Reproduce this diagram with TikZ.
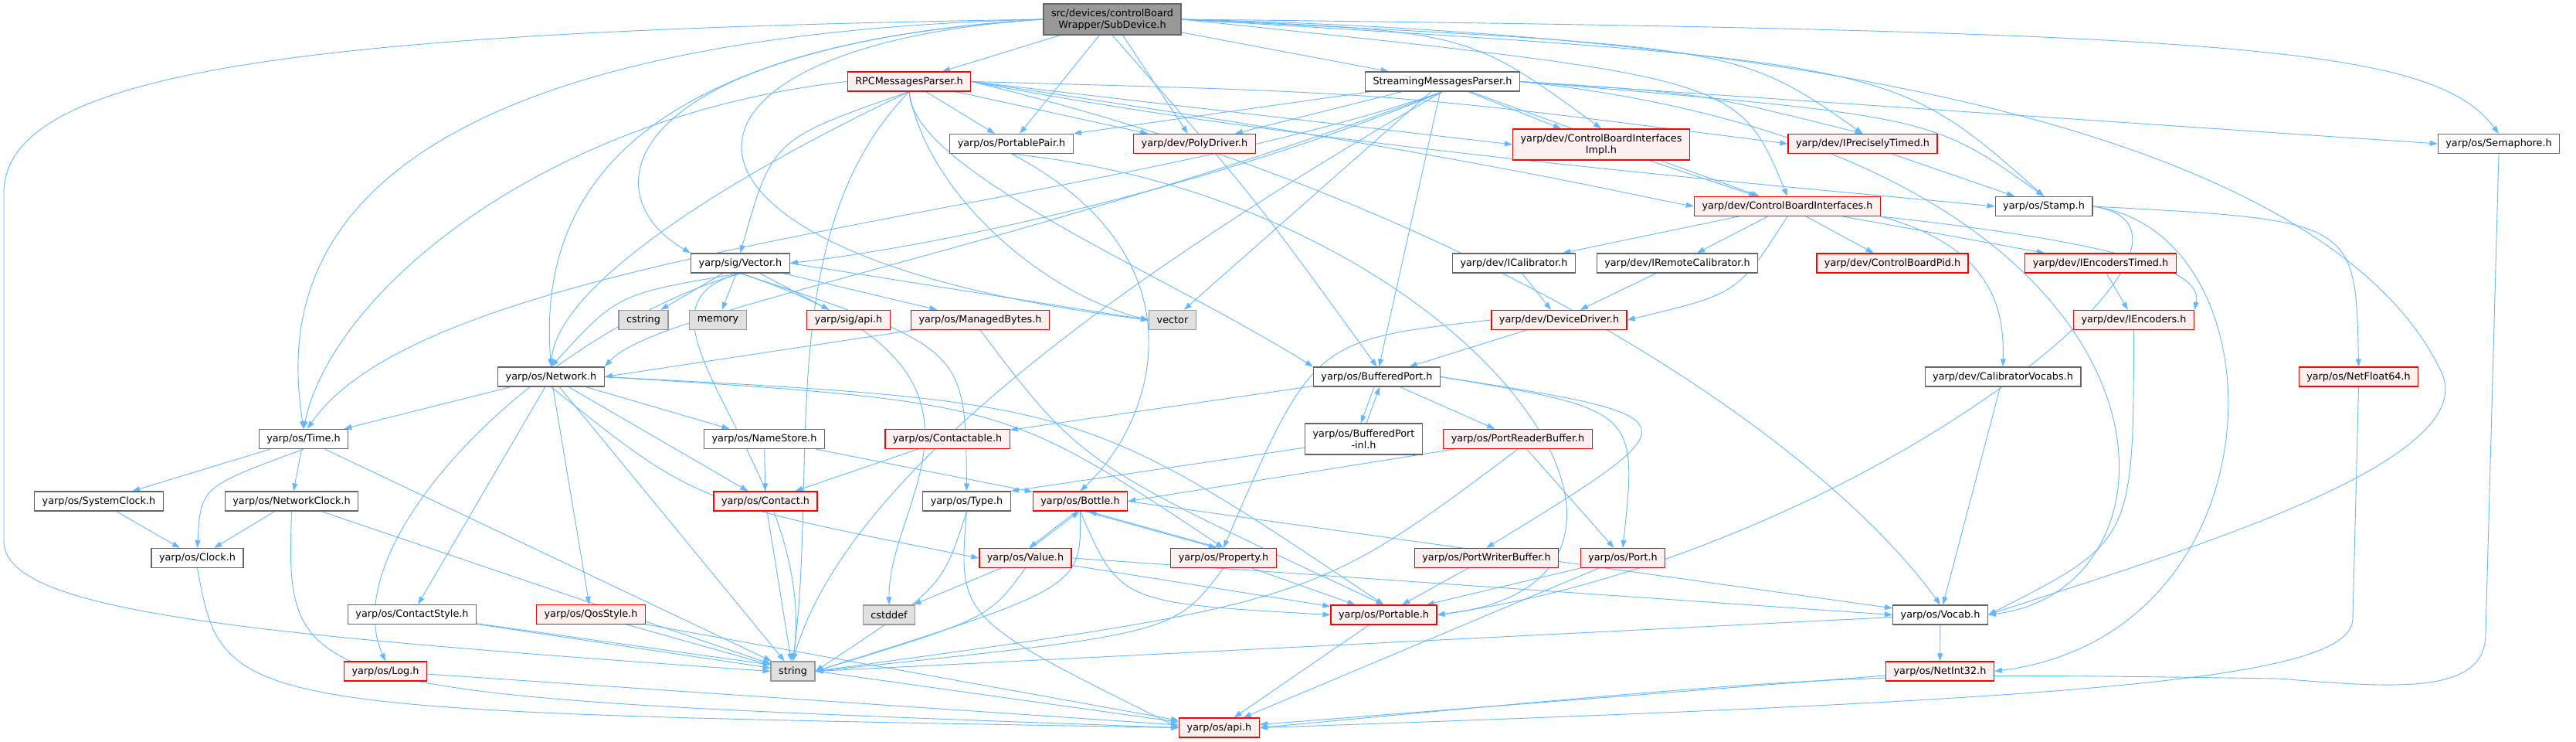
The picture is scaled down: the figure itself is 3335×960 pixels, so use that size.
\documentclass[tikz,border=0pt]{standalone}
\usepackage{fontspec}
\setmainfont{DejaVu Sans}
\usetikzlibrary{arrows.meta, backgrounds}
\definecolor{edgeblue}{HTML}{63B8FF}
\definecolor{redfill}{HTML}{FFF0F0}
\definecolor{extfill}{HTML}{E0E0E0}
\definecolor{rootfill}{HTML}{999999}
\definecolor{plainline}{HTML}{666666}
\definecolor{extline}{HTML}{999999}

\begin{document}
\begin{tikzpicture}[
  x=1pt, y=-1pt,
  boxb/.style={font=\fontsize{12.8}{15}\selectfont, minimum height=25pt,
               inner xsep=10pt, inner ysep=2pt, line width=1.3pt, align=center},
  plainb/.style={boxb, draw=plainline, fill=white},
  redb/.style={boxb, draw=red, fill=redfill},
  extb/.style={boxb, draw=extline, fill=extfill},
  rootb/.style={boxb, draw=plainline, fill=rootfill},
  arr/.style={->, >={Triangle[length=10pt,width=7pt]}, draw=edgeblue, line width=0.9pt},
]
\useasboundingbox (0,0) rectangle (3335,960);

% Top: the file itself
\node[rootb, minimum height=40pt] (sub) at (1440,25) {src/devices/controlBoard\\Wrapper/SubDevice.h};

% Parsers
\node[redb]   (rpc) at (1177,105.5) {RPCMessagesParser.h};
\node[plainb] (smp) at (1867.5,105.5) {StreamingMessagesParser.h};

% Second row
\node[plainb] (ppair) at (1309.5,186) {yarp/os/PortablePair.h};
\node[redb]   (poly) at (1546.5,186) {yarp/dev/PolyDriver.h};
\node[redb, minimum height=40pt] (cbiimpl) at (2073,187) {yarp/dev/ControlBoardInterfaces\\Impl.h};
\node[redb]   (iprec) at (2411.5,186) {yarp/dev/IPreciselyTimed.h};
\node[plainb] (sema) at (3235,186) {yarp/os/Semaphore.h};
\node[redb]   (cbi) at (2314,267) {yarp/dev/ControlBoardInterfaces.h};
\node[plainb] (stamp) at (2646,267) {yarp/os/Stamp.h};

% Vector and device interfaces
\node[plainb] (vec) at (958.5,340.5) {yarp/sig/Vector.h};
\node[plainb] (ical) at (1960,340.5) {yarp/dev/ICalibrator.h};
\node[plainb] (iremcal) at (2171.5,340.5) {yarp/dev/IRemoteCalibrator.h};
\node[redb]   (cbpid) at (2450,340.5) {yarp/dev/ControlBoardPid.h};
\node[redb]   (ienct) at (2719.5,340.5) {yarp/dev/IEncodersTimed.h};

\node[extb]   (cstring) at (833,414) {cstring};
\node[extb]   (memory) at (929.5,414) {memory};
\node[redb]   (sigapi) at (1098.5,414) {yarp/sig/api.h};
\node[redb]   (mbytes) at (1269,414) {yarp/os/ManagedBytes.h};
\node[extb]   (vector) at (1518,414) {vector};
\node[redb]   (devdrv) at (2018.5,414) {yarp/dev/DeviceDriver.h};
\node[redb]   (ienc) at (2762.5,414) {yarp/dev/IEncoders.h};

% Ports and network
\node[plainb] (network) at (713.5,487.5) {yarp/os/Network.h};
\node[plainb] (bport) at (1782.5,487.5) {yarp/os/BufferedPort.h};
\node[plainb] (calvoc) at (2593,487.5) {yarp/dev/CalibratorVocabs.h};
\node[redb]   (nf64) at (3053.5,487.5) {yarp/os/NetFloat64.h};

\node[plainb] (time) at (393,568) {yarp/os/Time.h};
\node[plainb] (namestore) at (989.5,568) {yarp/os/NameStore.h};
\node[redb]   (contactable) at (1226.5,568) {yarp/os/Contactable.h};
\node[plainb, minimum height=40pt] (bpinl) at (1765.5,568) {yarp/os/BufferedPort\\-inl.h};
\node[redb]   (prbuf) at (1965,568) {yarp/os/PortReaderBuffer.h};

\node[plainb] (sysclock) at (128,648.5) {yarp/os/SystemClock.h};
\node[plainb] (netclock) at (377.5,648.5) {yarp/os/NetworkClock.h};
\node[redb]   (contact) at (991,648.5) {yarp/os/Contact.h};
\node[plainb] (type) at (1251.5,648.5) {yarp/os/Type.h};
\node[redb]   (bottle) at (1398.5,648.5) {yarp/os/Bottle.h};

\node[plainb] (clock) at (255.5,722) {yarp/os/Clock.h};
\node[redb]   (value) at (1327.5,722) {yarp/os/Value.h};
\node[redb]   (property) at (1584,722) {yarp/os/Property.h};
\node[redb]   (pwbuf) at (1924.5,722) {yarp/os/PortWriterBuffer.h};
\node[redb]   (port) at (2101,722) {yarp/os/Port.h};

\node[plainb] (cstyle) at (533.5,795) {yarp/os/ContactStyle.h};
\node[redb]   (qos) at (765,795) {yarp/os/QosStyle.h};
\node[extb]   (cstddef) at (1151,795.5) {cstddef};
\node[redb]   (portable) at (1791.5,795.5) {yarp/os/Portable.h};
\node[plainb] (vocab) at (2512,795.5) {yarp/os/Vocab.h};

% Bottom
\node[redb]   (log) at (499,868.5) {yarp/os/Log.h};
\node[extb]   (string) at (1026.5,868.5) {string};
\node[redb]   (netint32) at (2511.5,868.5) {yarp/os/NetInt32.h};
\node[redb]   (api) at (1578.5,941.5) {yarp/os/api.h};

\begin{scope}[on background layer]
\fill[white] (0,0) rectangle (3335,960);

% Root includes
\draw[arr] (sub) -- (rpc);
\draw[arr] (sub) -- (smp);
\draw[arr] (sub) -- (ppair);
\draw[arr] (sub) -- (poly);
\draw[arr] (sub.east) .. controls (1900,40) .. (cbiimpl.north);
\draw[arr] (sub.east) .. controls (2250,60) .. (iprec.north);
\draw[arr] (sub.east) .. controls (2450,80) .. (stamp.north);
\draw[arr] (sub.east) .. controls (2250,100) .. (cbi.north);
\draw[arr] (sub.east) .. controls (2900,40) and (3150,60) .. (sema.north);
\draw[arr] (sub.east) .. controls (2600,50) and (3050,250) .. (3160,480)
  .. controls (3220,600) and (2800,720) .. (vocab.east);
\draw[arr] (sub.west) .. controls (400,40) and (5,90) .. (5,250)
  -- (5,700) .. controls (5,790) and (300,820) .. (string.west);
\draw[arr] (sub.west) .. controls (360,50) and (370,400) .. (time.north);
\draw[arr] (sub.west) .. controls (760,60) and (700,300) .. (network.north);
\draw[arr] (sub.west) .. controls (800,60) and (760,250) .. (vec.north west);
\draw[arr] (sub.west) .. controls (820,60) and (800,330) .. (vector.west);
\draw[arr] (sub.south) .. controls (1620,250) .. (bport.north);

% RPC parser
\draw[arr] (rpc) -- (ppair);
\draw[arr] (rpc) -- (poly);
\draw[arr] (rpc.east) -- (cbiimpl.west);
\draw[arr] (rpc.east) .. controls (1900,200) and (2100,250) .. (cbi.west);
\draw[arr] (rpc.east) .. controls (1800,120) .. (iprec.west);
\draw[arr] (rpc.east) .. controls (1700,190) and (2300,240) .. (stamp.west);
\draw[arr] (rpc.west) .. controls (700,150) and (430,380) .. (time.north);
\draw[arr] (rpc.south) .. controls (900,250) and (720,380) .. (network.north);
\draw[arr] (rpc.south) .. controls (1000,180) .. (vec.north);
\draw[arr] (rpc.south) .. controls (1200,250) and (1350,380) .. (vector.west);
\draw[arr] (rpc.south) .. controls (1180,220) and (1500,350) .. (bport.north west);
\draw[arr] (rpc.south) .. controls (1000,300) and (1060,600) .. (string.north);
\draw[arr] (rpc.east) .. controls (1900,260) and (2350,560) .. (vocab.north);

% Streaming parser
\draw[arr] (smp) -- (ppair.north east);
\draw[arr] (smp) -- (poly);
\draw[arr] (smp) -- (cbiimpl);
\draw[arr] (smp) -- (cbi);
\draw[arr] (smp.east) .. controls (2200,120) .. (iprec.north);
\draw[arr] (smp.east) .. controls (2500,150) .. (stamp.north);
\draw[arr] (smp.east) -- (sema.west);
\draw[arr] (smp.east) .. controls (2850,200) and (2860,760) .. (vocab.east);
\draw[arr] (smp.south) .. controls (1400,280) and (560,320) .. (time.70);
\draw[arr] (smp.south) .. controls (1300,330) and (850,400) .. (network.north east);
\draw[arr] (smp.south) .. controls (1550,250) and (1200,320) .. (vec.east);
\draw[arr] (smp) -- (vector);
\draw[arr] (smp) -- (bport);
\draw[arr] (smp.south) .. controls (1500,330) and (1100,600) .. (string.north);

% Second row
\draw[arr] (ppair.south) .. controls (1560,330) and (1500,540) .. (bottle.north);
\draw[arr] (ppair.south) .. controls (1900,260) and (2250,750) .. (portable.east);
\draw[arr] (cbiimpl) -- (cbi);
\draw[arr] (iprec) -- (stamp);
\draw[arr] (sema.south) -- (3218,820) .. controls (3218,900) and (3100,890) .. (2950,878)
  .. controls (2400,870) .. (api.east);
\draw[arr] (stamp.east) .. controls (3050,285) .. (nf64.north);
\draw[arr] (stamp.east) .. controls (2960,300) and (2960,820) .. (netint32.east);
\draw[arr] (stamp.east) .. controls (2930,300) and (2400,720) .. (portable.east);

% Control board interfaces
\draw[arr] (cbi.south) .. controls (2250,380) .. (devdrv.east);
\draw[arr] (cbi) -- (ical);
\draw[arr] (cbi) -- (iremcal);
\draw[arr] (cbi) -- (cbpid);
\draw[arr] (cbi) -- (ienct);
\draw[arr] (cbi.south east) .. controls (2800,320) and (2850,360) .. (ienc.north east);
\draw[arr] (cbi.south east) .. controls (2580,320) and (2595,400) .. (calvoc.north);
\draw[arr] (ical) -- (devdrv);
\draw[arr] (iremcal) -- (devdrv);
\draw[arr] (ienct) -- (ienc);
\draw[arr] (ienc.south) .. controls (2762,700) .. (vocab.east);
\draw[arr] (calvoc) -- (vocab);
\draw[arr] (devdrv) -- (bport);
\draw[arr] (devdrv.west) .. controls (1700,440) .. (property.north);

% Vector
\draw[arr] (vec) -- (cstring);
\draw[arr] (vec) -- (memory);
\draw[arr] (vec) -- (sigapi);
\draw[arr] (vec) -- (mbytes);
\draw[arr] (vec.east) -- (vector.west);
\draw[arr] (vec.south) .. controls (1340,480) and (1150,640) .. (cstddef.north);
\draw[arr] (vec.south) .. controls (780,400) and (1060,600) .. (string.north);
\draw[arr] (vec.south) .. controls (700,430) and (430,700) .. (log.north);
\draw[arr] (vec.south) .. controls (800,380) .. (network.north);
\draw[arr] (vec.south) .. controls (1250,450) .. (type.north);
\draw[arr] (mbytes) -- (network.east);
\draw[arr] (mbytes.south) .. controls (1400,600) .. (portable.north);

% Ports
\draw[arr] (bport) -- (contactable);
\draw[arr] (bport.255) -- (bpinl.100);
\draw[arr] (bpinl.80) -- (bport.285);
\draw[arr] (bport) -- (prbuf);
\draw[arr] (bport.east) .. controls (2200,540) .. (pwbuf.north);
\draw[arr] (bport.east) .. controls (2120,530) .. (port.north);
\draw[arr] (bpinl) -- (type.north east);
\draw[arr] (prbuf) -- (bottle.east);
\draw[arr] (prbuf) -- (port);
\draw[arr] (prbuf.south) .. controls (1700,780) .. (string.east);
\draw[arr] (pwbuf) -- (portable);
\draw[arr] (port) -- (portable);
\draw[arr] (port) -- (api);

% Bottle, Value, Property
\draw[arr] (bottle.250) -- (value.70);
\draw[arr] (value.60) -- (bottle.265);
\draw[arr] (bottle.295) -- (property.125);
\draw[arr] (property.110) -- (bottle.310);
\draw[arr] (bottle.south) .. controls (1450,780) .. (portable.west);
\draw[arr] (bottle.south) .. controls (1400,760) .. (string.east);
\draw[arr] (bottle.east) -- (vocab);
\draw[arr] (value) -- (cstddef);
\draw[arr] (value.south) .. controls (1280,800) .. (string.east);
\draw[arr] (value) -- (portable);
\draw[arr] (value.east) -- (vocab.west);
\draw[arr] (property) -- (portable);
\draw[arr] (property.south) .. controls (1520,820) .. (string.east);
\draw[arr] (type.south) .. controls (1220,760) .. (string.east);
\draw[arr] (type.south) .. controls (1240,800) .. (api.west);
\draw[arr] (portable) -- (api);

% Network
\draw[arr] (contactable) -- (contact);
\draw[arr] (namestore) -- (contact);
\draw[arr] (namestore) -- (bottle);
\draw[arr] (contact) -- (string);
\draw[arr] (network) -- (time);
\draw[arr] (network) -- (contact);
\draw[arr] (network) -- (cstyle);
\draw[arr] (network) -- (qos);
\draw[arr] (network) -- (namestore);
\draw[arr] (network.south) .. controls (900,650) .. (value.west);
\draw[arr] (network.east) .. controls (1300,520) .. (property.north);
\draw[arr] (network.east) .. controls (1400,520) .. (portable.north);
\draw[arr] (network) -- (string);

% Time and clocks
\draw[arr] (time) -- (sysclock);
\draw[arr] (time) -- (netclock);
\draw[arr] (time.south) .. controls (260,630) .. (clock.north);
\draw[arr] (time) -- (string);
\draw[arr] (sysclock) -- (clock);
\draw[arr] (netclock) -- (clock);
\draw[arr] (netclock) -- (string);
\draw[arr] (netclock.south) .. controls (370,900) .. (api.west);
\draw[arr] (clock.south) .. controls (290,920) .. (api.west);

% Bottom row
\draw[arr] (cstyle) -- (string);
\draw[arr] (cstyle) -- (api);
\draw[arr] (qos) -- (string);
\draw[arr] (qos) -- (api);
\draw[arr] (log) -- (api);
\draw[arr] (vocab) -- (netint32);
\draw[arr] (vocab) -- (string.east);
\draw[arr] (netint32) -- (api);
\draw[arr] (nf64.south) -- (3046,800) .. controls (3046,880) and (2700,905) .. (api.east);
\end{scope}
\end{tikzpicture}
\end{document}
